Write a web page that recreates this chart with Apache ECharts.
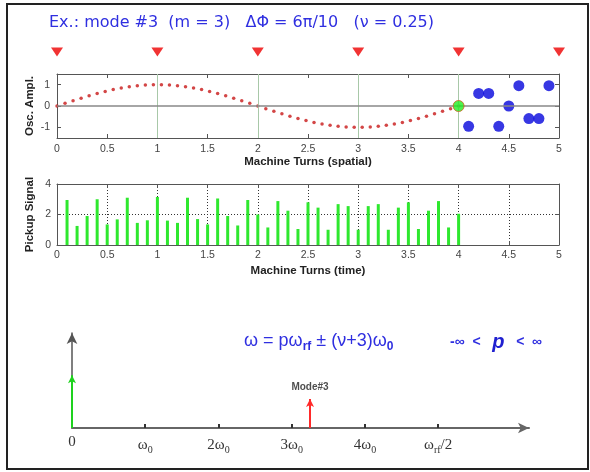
<!DOCTYPE html>
<html>
<head>
<meta charset="utf-8">
<script src="https://cdn.jsdelivr.net/npm/echarts@6/dist/echarts.min.js"></script>
<style>html,body{margin:0;padding:0;background:#fff}#c{width:590px;height:472px}</style>
</head>
<body>
<div id="c"></div>
<script>
// ---- data ----
const pickupPositions = [0, 1, 2, 3, 4, 5];
const curveX = [0,0.08,0.16,0.24,0.32,0.40,0.48,0.56,0.64,0.72,0.80,0.88,0.96,1.04,1.12,1.20,1.28,1.36,1.44,1.52,1.60,1.68,1.76,1.84,1.92,2.00,
  2.08,2.16,2.24,2.32,2.40,2.48,2.56,2.64,2.72,2.80,2.88,2.96,3.04,3.12,3.20,3.28,3.36,3.44,3.52,3.60,3.68,3.76,3.84,3.92,4.00];
const curveY = [0,0.125,0.249,0.368,0.482,0.588,0.685,0.771,0.844,0.905,0.951,0.982,0.998,0.998,0.982,0.951,0.905,0.844,0.771,0.685,0.588,0.482,0.368,0.249,0.125,0,
  -0.125,-0.249,-0.368,-0.482,-0.588,-0.685,-0.771,-0.844,-0.905,-0.951,-0.982,-0.998,-0.998,-0.982,-0.951,-0.905,-0.844,-0.771,-0.685,-0.588,-0.482,-0.368,-0.249,-0.125,0];
const bunchX = [4.1,4.2,4.3,4.4,4.5,4.6,4.7,4.8,4.9];
const bunchY = [-0.95,0.59,0.59,-0.95,0,0.95,-0.59,-0.59,0.95];
const currentX = [4];
const currentY = [0];
const signalX = [0.1,0.2,0.3,0.4,0.5,0.6,0.7,0.8,0.9,1.0,1.1,1.2,1.3,1.4,1.5,1.6,1.7,1.8,1.9,2.0,
  2.1,2.2,2.3,2.4,2.5,2.6,2.7,2.8,2.9,3.0,3.1,3.2,3.3,3.4,3.5,3.6,3.7,3.8,3.9,4.0];
const signalY = [2.95,1.25,1.9,3.0,1.35,1.68,3.1,1.45,1.62,3.15,1.6,1.45,3.1,1.7,1.35,3.05,1.9,1.28,2.95,2.0,
  1.15,2.88,2.25,1.05,2.8,2.45,1.0,2.68,2.55,1.0,2.55,2.68,1.0,2.45,2.8,1.05,2.25,2.88,1.15,2.05];
const freqTicks = [0,1,2,3,4,5];
const freqTickLabels = ['0','{a|ω}{s|0}','{a|2ω}{s|0}','{a|3ω}{s|0}','{a|4ω}{s|0}','{a|ω}{s|rf}{a|/2}'];
const dcLine = {x: 0, amp: 1.0};
const modeLine = {x: 3.25, amp: 0.55, label: 'Mode#3'};

const titleText = 'Ex.: mode #3  (m = 3)   ΔΦ = 6π/10   (ν = 0.25)';

// ---- chart ----
const chart = echarts.init(document.getElementById('c'), null, {renderer: 'canvas'});
const tickFont = {fontFamily: 'Liberation Sans, Arial', fontSize: 10.5, color: '#444'};
const nameFont = {fontFamily: 'Liberation Sans, Arial', fontSize: 11.5, fontWeight: 'bold', color: '#222'};
const boxLine = {show: true, onZero: false, lineStyle: {color: '#555', width: 1}};
const inTick = {show: true, inside: true, length: 4, lineStyle: {color: '#555'}};

function xy(xs, ys) { return xs.map((x, i) => [x, ys[i]]); }

const option = {
  animation: false,
  backgroundColor: '#fff',
  grid: [
    {left: 57, top: 74, width: 502, height: 64},
    {left: 57, top: 45, width: 502, height: 14},
    {left: 57, top: 184, width: 502, height: 61},
    {left: 72, top: 333, width: 457, height: 95}
  ],
  xAxis: [
    {gridIndex: 0, type: 'value', min: 0, max: 5, interval: 0.5, axisLine: boxLine, axisTick: inTick,
     splitLine: {show: false}, axisLabel: Object.assign({margin: 6}, tickFont),
     name: 'Machine Turns (spatial)', nameLocation: 'middle', nameGap: 18, nameTextStyle: nameFont},
    {gridIndex: 0, type: 'value', position: 'top', min: 0, max: 5, interval: 0.5, axisLine: boxLine, axisTick: inTick,
     splitLine: {show: false}, axisLabel: {show: false}},
    {gridIndex: 1, type: 'value', min: 0, max: 5, show: false},
    {gridIndex: 2, type: 'value', min: 0, max: 5, interval: 0.5, axisLine: boxLine, axisTick: inTick,
     splitLine: {show: true, lineStyle: {color: '#333', type: [1, 2], width: 1}},
     axisLabel: Object.assign({margin: 5}, tickFont),
     name: 'Machine Turns (time)', nameLocation: 'middle', nameGap: 20, nameTextStyle: nameFont},
    {gridIndex: 2, type: 'value', position: 'top', min: 0, max: 5, interval: 0.5, axisLine: boxLine, axisTick: inTick,
     splitLine: {show: false}, axisLabel: {show: false}},
    {gridIndex: 3, type: 'value', min: 0, max: 6.24,
     axisLine: {show: true, onZero: false, symbol: ['none', 'arrow'], symbolSize: [8, 11], lineStyle: {color: '#666', width: 2}},
     axisTick: {show: true, customValues: [1,2,3,4,5], length: 4, inside: true, lineStyle: {color: '#333', width: 2}},
     splitLine: {show: false},
     axisLabel: {customValues: freqTicks, margin: 7,
       formatter: function (v) { const i = freqTicks.indexOf(v); return i >= 0 ? freqTickLabels[i] : ''; },
       fontFamily: 'Liberation Serif, Times New Roman', fontSize: 15, color: '#333',
       rich: {a: {fontFamily: 'Liberation Serif', fontSize: 15, color: '#333'},
              s: {fontFamily: 'Liberation Serif', fontSize: 10, color: '#333', padding: [10, 0, 0, 0]}}}}
  ],
  yAxis: [
    {gridIndex: 0, type: 'value', min: -1.5, max: 1.5, axisLine: boxLine,
     axisTick: Object.assign({customValues: [-1, 0, 1]}, inTick),
     axisLabel: Object.assign({customValues: [-1, 0, 1], margin: 7}, tickFont),
     splitLine: {show: false},
     name: 'Osc. Ampl.', nameLocation: 'middle', nameGap: 21, nameMoveOverlap: false, nameTextStyle: nameFont},
    {gridIndex: 0, type: 'value', position: 'right', min: -1.5, max: 1.5, axisLine: boxLine,
     axisTick: Object.assign({customValues: [-1, 0, 1]}, inTick), axisLabel: {show: false}, splitLine: {show: false}},
    {gridIndex: 1, type: 'value', min: 0, max: 1, show: false},
    {gridIndex: 2, type: 'value', min: 0, max: 4, interval: 2, axisLine: boxLine, axisTick: inTick,
     axisLabel: Object.assign({margin: 6}, tickFont),
     splitLine: {show: true, lineStyle: {color: '#333', type: [1, 2], width: 1}},
     name: 'Pickup Signal', nameLocation: 'middle', nameGap: 21, nameMoveOverlap: false, nameTextStyle: nameFont},
    {gridIndex: 2, type: 'value', position: 'right', min: 0, max: 4, interval: 2, axisLine: boxLine, axisTick: inTick,
     axisLabel: {show: false}, splitLine: {show: false}},
    {gridIndex: 3, type: 'value', min: 0, max: 1.8,
     axisLine: {show: true, onZero: false, symbol: ['none', 'arrow'], symbolSize: [8, 11], lineStyle: {color: '#555', width: 1.5}},
     axisTick: {show: false}, axisLabel: {show: false}, splitLine: {show: false}}
  ],
  series: [
    // reference lines in top plot
    {type: 'scatter', xAxisIndex: 0, yAxisIndex: 0, data: [], silent: true, z: 1,
     markLine: {silent: true, symbol: ['none', 'none'], label: {show: false},
       data: [{xAxis: 1}, {xAxis: 2}, {xAxis: 3}, {xAxis: 4}],
       lineStyle: {color: '#a8c8a8', width: 1, type: 'solid'}}},
    {type: 'scatter', xAxisIndex: 0, yAxisIndex: 0, data: [], silent: true, z: 1,
     markLine: {silent: true, symbol: ['none', 'none'], label: {show: false},
       data: [{yAxis: 0}], lineStyle: {color: '#888', width: 1.5, type: 'solid'}}},
    // oscillation curve
    {type: 'scatter', xAxisIndex: 0, yAxisIndex: 0, data: xy(curveX, curveY), symbolSize: 3.5,
     itemStyle: {color: '#c81818'}, z: 3},
    // bunches
    {type: 'scatter', xAxisIndex: 0, yAxisIndex: 0, data: xy(bunchX, bunchY), symbolSize: 11,
     itemStyle: {color: '#0505dc'}, z: 4},
    {type: 'scatter', xAxisIndex: 0, yAxisIndex: 0, data: xy(currentX, currentY), symbolSize: 11,
     itemStyle: {color: '#22ee22', borderColor: '#d06020', borderWidth: 1}, z: 5},
    // pickups (triangles)
    {type: 'scatter', xAxisIndex: 2, yAxisIndex: 2, data: pickupPositions.map(x => [x, 0.5]),
     symbol: 'triangle', symbolRotate: 180, symbolSize: [12, 9], itemStyle: {color: '#ee0000'}},
    // pickup signal
    {type: 'bar', xAxisIndex: 3, yAxisIndex: 3, data: xy(signalX, signalY), barWidth: 3,
     itemStyle: {color: '#2ee82e'}, z: 3},
    // spectrum
    {type: 'scatter', xAxisIndex: 5, yAxisIndex: 5, silent: true, z: 10,
     data: [{value: [modeLine.x, modeLine.amp], symbolSize: 0,
       label: {show: true, position: 'top', distance: 7, formatter: modeLine.label,
         fontFamily: 'Liberation Sans, Arial', fontWeight: 'bold', fontSize: 10, color: '#222'}}],
     markLine: {silent: true, symbol: ['none', 'arrow'], symbolSize: [6, 8], label: {show: false}, z: 10,
       lineStyle: {type: 'solid'},
       data: [
         [{coord: [dcLine.x, 0], lineStyle: {color: '#1ed21e', width: 2, type: 'solid'}, itemStyle: {color: '#1ed21e'}},
          {coord: [dcLine.x, dcLine.amp]}],
         [{coord: [modeLine.x, 0], lineStyle: {color: '#ff2a2a', width: 2, type: 'solid'}, itemStyle: {color: '#ff2a2a'}},
          {coord: [modeLine.x, modeLine.amp]}]
       ]}}
  ],
  graphic: [
    {type: 'rect', shape: {x: 7, y: 4, width: 581, height: 465}, style: {fill: 'none', stroke: '#222', lineWidth: 2}, z: 100},
    {type: 'text', left: 49, top: 15, style: {text: titleText, fill: '#2f2fe0',
      font: '16px "DejaVu Sans", sans-serif'}},
    {type: 'text', left: 244, top: 332, style: {
      text: '{b|ω = }{u|p}{u|ω}{su|rf}{b| ± (ν+3)ω}{s|0}',
      rich: {
        b: {fontFamily: 'Liberation Sans', fontSize: 18, fill: '#2f2fe0'},
        u: {fontFamily: 'Liberation Sans', fontSize: 18, fill: '#2f2fe0'},
        su: {fontFamily: 'Liberation Sans', fontWeight: 'bold', fontSize: 12, fill: '#2f2fe0', padding: [11, 0, 0, 0]},
        s: {fontFamily: 'Liberation Sans', fontWeight: 'bold', fontSize: 12, fill: '#2f2fe0', padding: [11, 0, 0, 0]}
      }}},
    {type: 'text', left: 450, top: 332, style: {
      text: '{c|-∞  <   }{p|p}{c|   <  ∞}',
      rich: {
        c: {fontFamily: 'Liberation Sans', fontSize: 14, fontWeight: 'bold', fill: '#2f2fe0'},
        p: {fontFamily: 'Liberation Sans', fontSize: 20, fontWeight: 'bold', fontStyle: 'italic', fill: '#2020d0'}
      }}}
  ]
};
chart.setOption(option);
</script>
</body>
</html>
